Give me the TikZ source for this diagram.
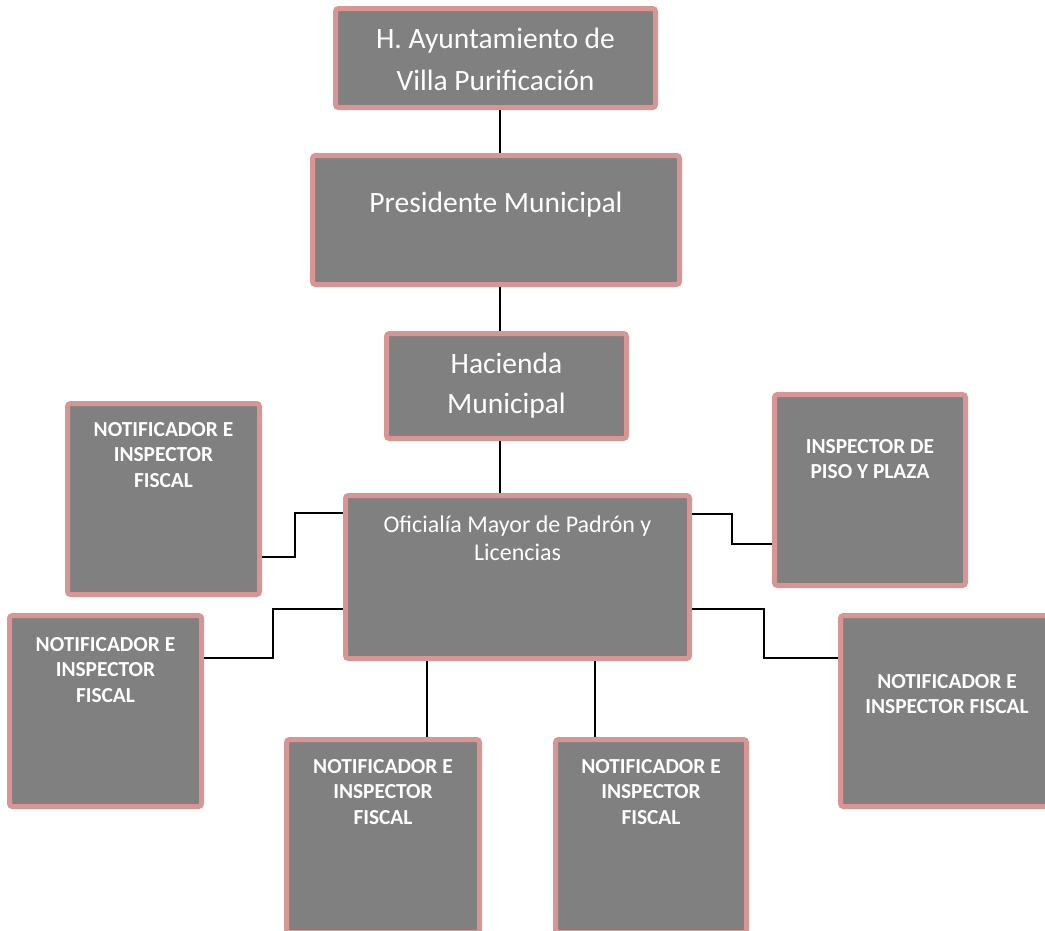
\documentclass[tikz,border=0pt]{standalone}
\usepackage{fontspec}
\setmainfont{Carlito}
\definecolor{boxgray}{HTML}{808080}
\definecolor{boxpink}{HTML}{D99594}
\newcommand\tlines[1]{\begin{tabular}[t]{@{}c@{}}#1\end{tabular}}
\tikzset{
  box/.style={draw=boxpink, fill=boxgray, line width=5pt, rounded corners=3pt, inner sep=0pt},
  txt/.style={text=white, inner sep=0pt, anchor=base},
  big/.style={font={\fontsize{29.5}{42}\selectfont}},
  mid/.style={font={\fontsize{24}{28}\selectfont}},
  small/.style={font={\fontsize{21.4}{25.5}\selectfont\bfseries}},
  conn/.style={draw=black, line width=1.5pt}
}
\begin{document}
\begin{tikzpicture}[x=1pt, y=-1pt]
\clip (0,0) rectangle (1045,930);
% boxes
\node[box, minimum width=320pt, minimum height=99pt]  (A) at (495.5,58) {};
\node[box, minimum width=367pt, minimum height=129pt] (B) at (496,220) {};
\node[box, minimum width=240pt, minimum height=105pt] (C) at (506.5,386) {};
\node[box, minimum width=344pt, minimum height=163pt] (D) at (517.5,577) {};
\node[box, minimum width=192pt, minimum height=191pt] (E) at (163.5,499) {};
\node[box, minimum width=192pt, minimum height=191pt] (F) at (105.5,711) {};
\node[box, minimum width=191pt, minimum height=191pt] (G) at (870,490) {};
\node[box, minimum width=213pt, minimum height=191pt] (H) at (947,711) {};
\node[box, minimum width=193pt, minimum height=193pt] (I) at (383,836) {};
\node[box, minimum width=191pt, minimum height=193pt] (J) at (651,836) {};
% texts
\node[txt, big] (At) at ([yshift=-42pt]A.north) {\tlines{H. Ayuntamiento de\\Villa Purificación}};
\node[txt, big] (Bt) at ([yshift=-59pt]B.north) {\tlines{Presidente Municipal}};
\node[txt, font={\fontsize{29.5}{40}\selectfont}] (Ct) at ([yshift=-42pt]C.north) {\tlines{Hacienda\\Municipal}};
\node[txt, mid] (Dt) at ([yshift=-39pt]D.north) {\tlines{Oficialía Mayor de Padrón y\\Licencias}};
\node[txt, small] (Et) at ([yshift=-35pt]E.north) {\tlines{NOTIFICADOR E\\INSPECTOR\\FISCAL}};
\node[txt, small] (Ft) at ([yshift=-38pt]F.north) {\tlines{NOTIFICADOR E\\INSPECTOR\\FISCAL}};
\node[txt, small] (Gt) at ([yshift=-61pt]G.north) {\tlines{INSPECTOR DE\\PISO Y PLAZA}};
\node[txt, small] (Ht) at ([yshift=-75pt]H.north) {\tlines{NOTIFICADOR E\\INSPECTOR FISCAL}};
\node[txt, small] (It) at ([yshift=-36pt]I.north) {\tlines{NOTIFICADOR E\\INSPECTOR\\FISCAL}};
\node[txt, small] (Jt) at ([yshift=-36pt]J.north) {\tlines{NOTIFICADOR E\\INSPECTOR\\FISCAL}};
% connectors
\draw[conn] ([xshift=4.5pt]A.south) -- ([xshift=4.5pt]A.south |- B.north);
\draw[conn] ([xshift=4pt]B.south) -- ([xshift=4pt]B.south |- C.north);
\draw[conn] ([xshift=-6.5pt]C.south) -- ([xshift=-6.5pt]C.south |- D.north);
\draw[conn] ([yshift=64pt]D.west) -- ++(-48,0) |- ([yshift=-58pt]E.east);
\draw[conn] ([yshift=-32pt]D.west) -- ++(-70,0) |- ([yshift=53pt]F.east);
\draw[conn] ([yshift=63pt]D.east) -- ++(40,0) |- ([yshift=-54pt]G.west);
\draw[conn] ([yshift=-32pt]D.east) -- ++(72,0) |- ([yshift=53pt]H.west);
\draw[conn] ([xshift=-90.5pt]D.south) -- ([xshift=-90.5pt]D.south |- I.north);
\draw[conn] ([xshift=77.5pt]D.south) -- ([xshift=77.5pt]D.south |- J.north);
\end{tikzpicture}
\end{document}
